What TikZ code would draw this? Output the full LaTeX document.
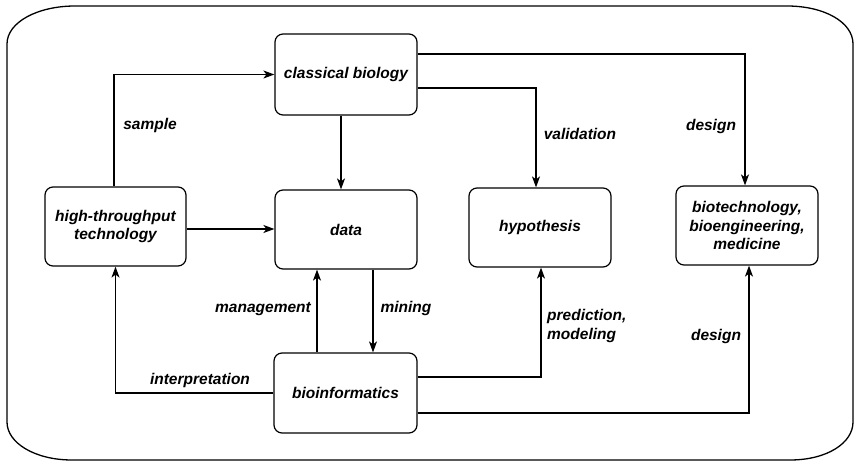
\documentclass[tikz,border=0pt]{standalone}
\usepackage{fontspec}
\setmainfont{Liberation Sans}
\usetikzlibrary{arrows.meta}
\tikzset{
  box/.style={draw, line width=1.2pt, rounded corners=8pt, inner sep=0pt, align=center,
    font=\fontsize{15.5}{18.5}\selectfont\bfseries\itshape},
  lbl/.style={inner sep=0pt, align=left, font=\fontsize{15.5}{18.5}\selectfont\bfseries\itshape},
  arr/.style={line width=1.3pt, -{Stealth[length=11pt,width=8pt,inset=3pt]}},
}
\begin{document}
\begin{tikzpicture}[x=1pt,y=-1pt]
\useasboundingbox (0,0) rectangle (856,462);
% outer frame
\draw[line width=1.3pt] (75,6) -- (787,6)
  .. controls (824,6) and (853,22) .. (853,44)
  -- (853,422)
  .. controls (853,443) and (827,460) .. (790,460)
  -- (72,460)
  .. controls (35,460) and (7,443) .. (7,422)
  -- (7,44)
  .. controls (7,22) and (38,6) .. (75,6) -- cycle;
% nodes
\node[box, minimum width=142pt, minimum height=81pt] (cb) at (346,74.5) {classical biology};
\node[box, minimum width=142pt, minimum height=79pt] (data) at (346,229.5) {data};
\node[box, minimum width=141pt, minimum height=79pt] (ht) at (115.5,226.5) {high-throughput\\technology};
\node[box, minimum width=142pt, minimum height=79pt] (hyp) at (540,227.5) {hypothesis};
\node[box, minimum width=142pt, minimum height=79pt] (bt) at (747,225.5) {biotechnology,\\bioengineering,\\medicine};
\node[box, minimum width=143pt, minimum height=80pt] (bio) at (345.5,393) {bioinformatics};
% connectors
\draw[arr] ([xshift=-1.5pt]ht.north) |- (cb.west);
\draw[arr] ([xshift=-5pt]cb.south) -- ([xshift=-5pt]data.north);
\draw[arr] ([yshift=-2.5pt]ht.east) -- ([yshift=-2.5pt]ht.east -| data.west);
\draw[arr] ([yshift=-13.5pt]cb.east) -| ([xshift=-4pt]hyp.north);
\draw[arr] ([yshift=20.5pt]cb.east) -| ([xshift=-2pt]bt.north);
\draw[arr] ([xshift=27pt]data.south) -- ([xshift=27pt]data.south |- bio.north);
\draw[arr] ([xshift=-28.5pt]bio.north) -- ([xshift=-28.5pt]bio.north |- data.south);
\draw[arr] (bio.west) -| (ht.south);
\draw[arr] ([yshift=16pt]bio.east) -| ([xshift=1pt]hyp.south);
\draw[arr] ([yshift=-20pt]bio.east) -| ([xshift=2pt]bt.south);
% labels
\node[lbl] (lsample) at (150,125) {sample};
\node[lbl] (lvalid) at (580,134) {validation};
\node[lbl] (ldesign1) at (711,126) {design};
\node[lbl] (lmanage) at (263,309) {management};
\node[lbl] (lmining) at (406,308) {mining};
\node[lbl] (linterp) at (200,380) {interpretation};
\node[lbl, anchor=west] (lpred) at (547,326) {prediction,\\modeling};
\node[lbl] (ldesign2) at (716,336) {design};
\end{tikzpicture}
\end{document}
